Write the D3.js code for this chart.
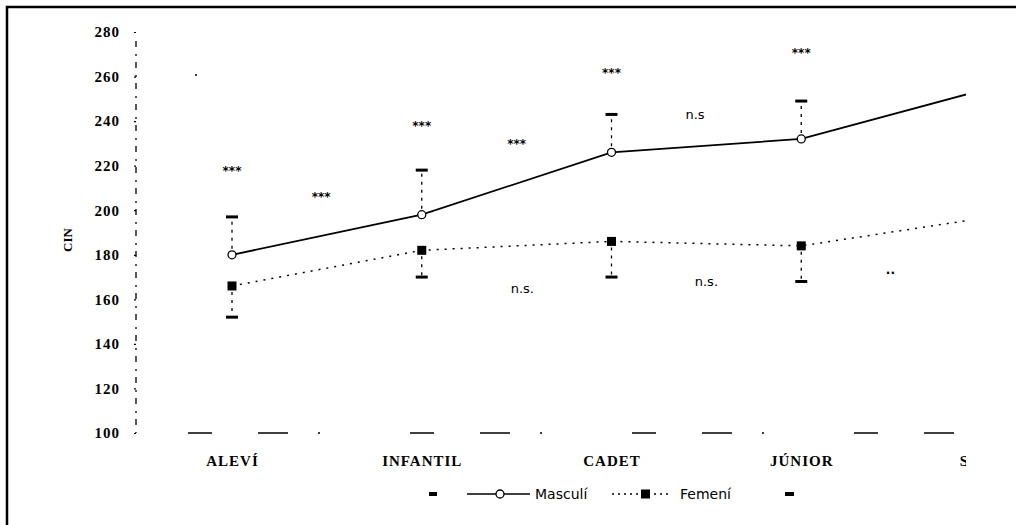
<!DOCTYPE html>
<html><head><meta charset="utf-8">
<script src="https://cdn.jsdelivr.net/npm/d3@7/dist/d3.min.js"></script>
<style>body{margin:0;background:#fff}svg{display:block}text{fill:#000}</style>
</head><body>
<svg id="c" width="1016" height="525"></svg>
<script>
const categories = ["ALEVÍ","INFANTIL","CADET","JÚNIOR","SÈNIOR"];
const masculi = [180, 198, 226, 232, 255];
const femeni = [166, 182, 186, 184, 197];
const masculiUpper = [197, 218, 243, 249];
const femeniLower = [152, 170, 170, 168];
const yTicks = [100,120,140,160,180,200,220,240,260,280];
const sigAtCategory = [{i:0,v:216,t:"***"},{i:1,v:236,t:"***"},{i:2,v:260,t:"***"},{i:3,v:269,t:"***"}];
const sigBetween = [{i:0.47,v:204,t:"***"},{i:1.5,v:228,t:"***"},{i:2.44,v:241,t:"n.s"},{i:1.53,v:163,t:"n.s."},{i:2.5,v:166,t:"n.s."},{i:3.47,v:170,t:"··"}];

const svg = d3.select("#c");
const x = d3.scalePoint().domain(categories).range([232, 991]);
const xi = d3.scaleLinear().domain([0,4]).range([232,991]);
const y = d3.scaleLinear().domain([100,280]).range([433,32]);

// frame
svg.append("path").attr("d","M7,525 V7 H1016").attr("fill","none").attr("stroke","#000").attr("stroke-width",2.5);

svg.append("defs").append("clipPath").attr("id","pc").append("rect").attr("x",0).attr("y",0).attr("width",966).attr("height",525);
const g = svg.append("g").attr("clip-path","url(#pc)");

// y axis
svg.append("line").attr("x1",136).attr("x2",136).attr("y1",y(276)).attr("y2",y(100))
  .attr("stroke","#000").attr("stroke-width",1.3).attr("stroke-dasharray","6,7,2,6");
const yAxis = d3.axisLeft(y).tickValues(yTicks).tickSize(4).tickPadding(12).tickFormat(d3.format("d"));
const ya = svg.append("g").attr("transform","translate(136,0)").call(yAxis);
ya.select(".domain").remove();
ya.selectAll(".tick line").attr("stroke-dasharray","2,2").attr("stroke-width",1.2);
ya.selectAll("text").attr("font-family","Liberation Serif").attr("font-weight","bold").attr("font-size",15).attr("letter-spacing",1).attr("fill","#000");
svg.append("text").attr("transform","translate(72,240) rotate(-90)").attr("text-anchor","middle")
  .attr("font-family","Liberation Serif").attr("font-weight","bold").attr("font-size",13).text("CIN");

// x baseline
g.append("line").attr("x1",188).attr("x2",966).attr("y1",y(100)).attr("y2",y(100))
  .attr("stroke","#000").attr("stroke-width",1.3).attr("stroke-dasharray","24,46,30,30,2,90");

// x labels
const xa = g.append("g").attr("transform","translate(0,433)").call(d3.axisBottom(x).tickSize(0).tickPadding(22));
xa.select(".domain").remove();
xa.selectAll("text").attr("font-family","Liberation Serif").attr("font-weight","bold").attr("font-size",15).attr("letter-spacing",1).attr("fill","#000");

// error bars
const idx = d3.range(4);
g.selectAll(".em").data(idx).join("line").attr("x1",i=>x(categories[i])).attr("x2",i=>x(categories[i]))
  .attr("y1",i=>y(masculi[i])-6).attr("y2",i=>y(masculiUpper[i])).attr("stroke","#000").attr("stroke-width",1.3).attr("stroke-dasharray","3,5");
g.selectAll(".emc").data(idx).join("line").attr("x1",i=>x(categories[i])-6).attr("x2",i=>x(categories[i])+6)
  .attr("y1",i=>y(masculiUpper[i])).attr("y2",i=>y(masculiUpper[i])).attr("stroke","#000").attr("stroke-width",3);
g.selectAll(".ef").data(idx).join("line").attr("x1",i=>x(categories[i])).attr("x2",i=>x(categories[i]))
  .attr("y1",i=>y(femeni[i])+6).attr("y2",i=>y(femeniLower[i])).attr("stroke","#000").attr("stroke-width",1.3).attr("stroke-dasharray","3,5");
g.selectAll(".efc").data(idx).join("line").attr("x1",i=>x(categories[i])-6).attr("x2",i=>x(categories[i])+6)
  .attr("y1",i=>y(femeniLower[i])).attr("y2",i=>y(femeniLower[i])).attr("stroke","#000").attr("stroke-width",3);

// lines
const line = d3.line().x((d,i)=>x(categories[i])).y(d=>y(d));
g.append("path").datum(masculi).attr("d",line).attr("fill","none").attr("stroke","#000").attr("stroke-width",1.8);
g.append("path").datum(femeni).attr("d",line).attr("fill","none").attr("stroke","#000").attr("stroke-width",1.5).attr("stroke-dasharray","2,6");

g.selectAll(".mp").data(masculi.slice(0,4)).join("circle").attr("cx",(d,i)=>x(categories[i])).attr("cy",d=>y(d))
  .attr("r",4).attr("fill","#fff").attr("stroke","#000").attr("stroke-width",1.3);
g.selectAll(".fp").data(femeni.slice(0,4)).join("rect").attr("x",(d,i)=>x(categories[i])-4.5).attr("y",d=>y(d)-4.5)
  .attr("width",9).attr("height",9).attr("fill","#000");

// significance
g.selectAll(".s1").data(sigAtCategory).join("text").attr("x",d=>xi(d.i)).attr("y",d=>y(d.v)).attr("text-anchor","middle")
  .attr("font-family","DejaVu Sans").attr("font-weight","bold").attr("font-size",12).attr("fill","#000").text(d=>d.t);
g.selectAll(".s2").data(sigBetween).join("text").attr("x",d=>xi(d.i)).attr("y",d=>y(d.v)).attr("text-anchor","middle")
  .attr("font-family","DejaVu Sans").attr("fill","#000").attr("font-size",d=>d.t==="***"||d.t==="··"?12:13).attr("font-weight",d=>d.t==="***"||d.t==="··"?"bold":"normal").text(d=>d.t);
g.append("circle").attr("cx",196).attr("cy",75).attr("r",1).attr("fill","#000");

// legend
const lg = svg.append("g");
lg.append("rect").attr("x",429).attr("y",492).attr("width",8).attr("height",4).attr("fill","#000");
lg.append("line").attr("x1",467).attr("x2",530).attr("y1",494).attr("y2",494).attr("stroke","#000").attr("stroke-width",1.6);
lg.append("circle").attr("cx",500).attr("cy",494).attr("r",4).attr("fill","#fff").attr("stroke","#000").attr("stroke-width",1.3);
lg.append("text").attr("x",535).attr("y",499).attr("font-family","DejaVu Sans").attr("font-size",14).text("Masculí");
lg.append("line").attr("x1",612).attr("x2",670).attr("y1",494).attr("y2",494).attr("stroke","#000").attr("stroke-width",1.5).attr("stroke-dasharray","2,4");
lg.append("rect").attr("x",641).attr("y",489.5).attr("width",9).attr("height",9).attr("fill","#000");
lg.append("text").attr("x",680).attr("y",499).attr("font-family","DejaVu Sans").attr("font-size",14).text("Femení");
lg.append("rect").attr("x",785).attr("y",492).attr("width",9).attr("height",4).attr("fill","#000");
</script>
</body></html>
